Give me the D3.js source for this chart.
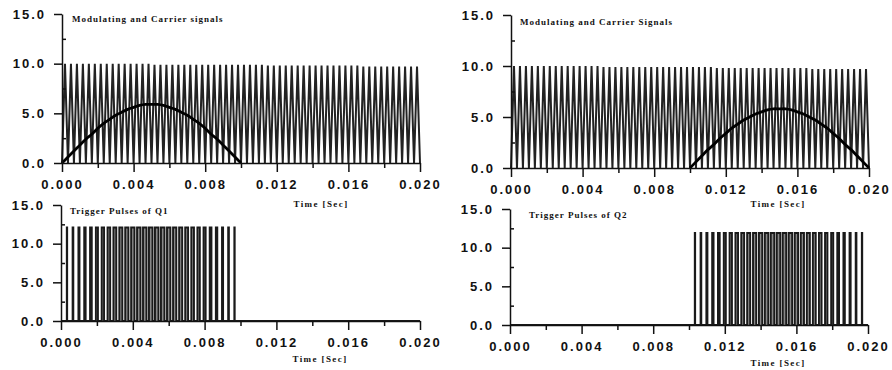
<!DOCTYPE html>
<html>
<head>
<meta charset="utf-8">
<script src="https://cdn.jsdelivr.net/npm/d3@7/dist/d3.min.js"></script>
<style>
  body { margin: 0; background: #fff; }
  .tick text { font-family: "Liberation Sans", Arial, sans-serif; font-weight: bold; font-size: 13px; letter-spacing: 2px; fill: #111; }
  .lbl { font-family: "Liberation Serif", "Times New Roman", serif; font-weight: bold; font-size: 9px; letter-spacing: 1px; fill: #111; }
</style>
</head>
<body>
<svg id="chart" width="892" height="370"></svg>
<script>
// axis ticks
const xTicks = [0, 0.004, 0.008, 0.012, 0.016, 0.020];
const xMinor = [0.002, 0.006, 0.010, 0.014, 0.018];
const yTicks = [0, 5, 10, 15];
const yMinor = [2.5, 7.5, 12.5];

const titles = ['Modulating and Carrier signals', 'Modulating and Carrier Signals',
                'Trigger Pulses of Q1', 'Trigger Pulses of Q2'];
const xTitle = 'Time [Sec]';

// carrier: 60 triangle cycles over 0.020 s, peak of each cycle (troughs at 0)
const carrierPeaks = [
  10.0, 10.0, 10.0, 10.0, 10.0, 10.0, 10.0, 10.0, 10.0, 10.0,
  10.0, 10.0, 10.0, 10.0, 10.0, 9.9, 9.9, 9.9, 9.9, 9.9,
  9.9, 9.9, 9.9, 9.9, 9.9, 9.9, 9.9, 9.9, 9.9, 9.9,
  9.9, 9.9, 9.9, 9.9, 9.8, 9.8, 9.8, 9.8, 9.8, 9.8,
  9.8, 9.8, 9.8, 9.8, 9.8, 9.8, 9.8, 9.8, 9.8, 9.8,
  9.7, 9.7, 9.7, 9.7, 9.7, 9.7, 9.7, 9.7, 9.7, 9.7
];

// modulating signal at each carrier trough (0 -> 0.010 s and 0.010 -> 0.020 s)
const modQ1 = [0, 0.6, 1.2, 1.8, 2.4, 2.9, 3.5, 4.0, 4.4, 4.8, 5.1, 5.4, 5.6, 5.8, 5.9, 5.9,
               5.9, 5.8, 5.6, 5.4, 5.1, 4.8, 4.4, 4.0, 3.5, 2.9, 2.4, 1.8, 1.2, 0.6, 0];
const modQ2 = [0, 0.6, 1.2, 1.8, 2.3, 2.9, 3.4, 3.9, 4.3, 4.7, 5.0, 5.3, 5.5, 5.7, 5.8, 5.8,
               5.8, 5.7, 5.5, 5.3, 5.0, 4.7, 4.3, 3.9, 3.4, 2.9, 2.3, 1.8, 1.2, 0.6, 0];
const pulseHigh = [12.1, 11.9];

const svg = d3.select('#chart');

// panel frames: x pixel range of 0..0.02 s, y pixel of 0 and 15
const panels = [
  { x0: 62,  x1: 420, yb: 163, yt: 14,  title: [72, 22],  xt: [321, 207] },
  { x0: 511, x1: 869, yb: 168, yt: 15,  title: [520, 25], xt: [778, 207] },
  { x0: 61,  x1: 420, yb: 321, yt: 205, title: [70, 214], xt: [320, 362] },
  { x0: 510, x1: 868, yb: 325, yt: 209, title: [529, 218], xt: [778, 366] }
];

const period = d3.scaleLinear().domain([0, carrierPeaks.length]).range([0, 0.020]);

function drawAxes(g, x, y) {
  g.append('g')
    .attr('transform', `translate(0,${y(0)})`)
    .call(d3.axisBottom(x).tickValues(xMinor).tickSize(5).tickFormat(''))
    .call(a => a.select('.domain').remove());
  g.append('g')
    .attr('transform', `translate(0,${y(0)})`)
    .call(d3.axisBottom(x).tickValues(xTicks).tickSize(9).tickSizeOuter(0).tickPadding(8).tickFormat(d3.format('.3f')));
  g.append('g')
    .attr('transform', `translate(${x(0)},0)`)
    .call(d3.axisRight(y).tickValues(yMinor).tickSize(4).tickFormat(''))
    .call(a => a.select('.domain').remove());
  g.append('g')
    .attr('transform', `translate(${x(0)},0)`)
    .call(d3.axisLeft(y).tickValues(yTicks).tickSize(8).tickSizeOuter(0).tickPadding(8).tickFormat(d3.format('.1f')));
  g.selectAll('.domain, .tick line').attr('stroke', '#111').attr('stroke-width', 1.5);
}

panels.forEach((p, i) => {
  const x = d3.scaleLinear().domain([0, 0.020]).range([p.x0, p.x1]);
  const y = d3.scaleLinear().domain([0, 15]).range([p.yb, p.yt]);
  const g = svg.append('g');
  const line = d3.line().x(d => x(d[0])).y(d => y(d[1]));

  if (i < 2) {
    // carrier triangle
    const pts = [[period(0), 0]];
    carrierPeaks.forEach((pk, k) => {
      pts.push([period(k + 0.5), pk]);
      pts.push([period(k + 1), 0]);
    });
    g.append('path').datum(pts).attr('d', line)
      .attr('fill', 'none').attr('stroke', '#222').attr('stroke-width', 2)
      .attr('stroke-linejoin', 'bevel');

    // modulating half sine
    const mod = i === 0 ? modQ1 : modQ2;
    const off = i === 0 ? 0 : modQ1.length - 1;
    g.append('path')
      .datum(mod.map((v, k) => [period(k + off), v]))
      .attr('d', line.curve(d3.curveCardinal))
      .attr('fill', 'none').attr('stroke', '#000').attr('stroke-width', 2.8);
  } else {
    // trigger pulses: high while modulating > carrier around each trough
    const mod = i === 2 ? modQ1 : modQ2;
    const off = i === 2 ? 0 : modQ1.length - 1;
    const h = pulseHigh[i - 2];
    const pts = [[0, 0]];
    mod.forEach((v, k) => {
      if (v <= 0) return;
      const c = k + off;
      const d = v / carrierPeaks[Math.min(c, carrierPeaks.length - 1)] / 2;
      pts.push([period(c - d), 0], [period(c - d), h], [period(c + d), h], [period(c + d), 0]);
    });
    pts.push([0.020, 0]);
    g.append('path').datum(pts).attr('d', line)
      .attr('fill', '#888').attr('stroke', '#1a1a1a').attr('stroke-width', 1.9);
  }

  drawAxes(g, x, y);

  g.append('text').attr('class', 'lbl').attr('x', p.title[0]).attr('y', p.title[1]).text(titles[i]);
  g.append('text').attr('class', 'lbl').attr('x', p.xt[0]).attr('y', p.xt[1])
    .attr('text-anchor', 'middle').style('letter-spacing', '1.4px').text(xTitle);
});
</script>
</body>
</html>
